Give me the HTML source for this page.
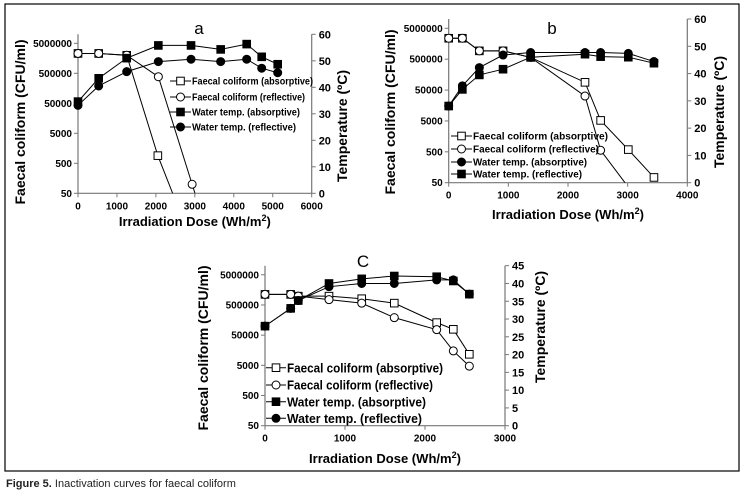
<!DOCTYPE html>
<html><head><meta charset="utf-8"><style>
body{margin:0;background:#fff;}
svg{display:block;font-family:"Liberation Sans",sans-serif;}
</style></head><body>
<svg id="fig" width="749" height="493" viewBox="0 0 749 493" xmlns="http://www.w3.org/2000/svg">
<rect x="5" y="4" width="734" height="467" fill="none" stroke="#000" stroke-width="1.2"/>
<text x="6" y="487" font-size="11" fill="#222"><tspan font-weight="bold">Figure 5.</tspan> Inactivation curves for faecal coliform</text>
</svg>
<script>
// ---- Chart a data ----
const aDose = [0, 531, 1250, 2063, 2902, 3663, 4331, 4716, 5127];
const aFcAbsDose = [0, 531, 1250, 2050, 2900];
const aFcAbs = [2300000, 2300000, 2000000, 900, 1.4];
const aFcRefDose = [0, 531, 1250, 2063, 2930, 3100];
const aFcRef = [2300000, 2300000, 2000000, 385000, 100, 20];
const aTempAbs = [34.6, 43.4, 51, 55.8, 55.8, 54.3, 56.3, 51.5, 48.7];
const aTempRef = [33.2, 40.5, 45.9, 49.7, 50.6, 49.7, 50.6, 47.2, 45.5];
const aXTicks = [0, 1000, 2000, 3000, 4000, 5000, 6000];
const aLogTicks = [50, 500, 5000, 50000, 500000, 5000000];
const aTempTicks = [0, 10, 20, 30, 40, 50, 60];
const aLegend = ["Faecal coliform (absorptive)", "Faecal coliform (reflective)", "Water  temp. (absorptive)", "Water  temp. (reflective)"];

// ---- Chart b data ----
const bDose = [0, 229, 514, 911, 1374, 2285, 2547, 3011, 3441];
const bFcAbs = [2380000, 2380000, 930000, 930000, 570000, 89000, 5200, 590, 74];
const bFcRefDose = [0, 229, 514, 911, 1374, 2285, 2547, 3011];
const bFcRef = [2380000, 2380000, 930000, 930000, 570000, 32000, 560, 36];
const bTempAbs = [28.1, 35.5, 42.2, 46.8, 47.7, 47.7, 47.7, 47.4, 44.4];
const bTempRef = [28.1, 34.2, 39.5, 41.6, 46, 47.1, 46.2, 46, 43.8];
const bXTicks = [0, 1000, 2000, 3000, 4000];
const bLogTicks = [50, 500, 5000, 50000, 500000, 5000000];
const bTempTicks = [0, 10, 20, 30, 40, 50, 60];
const bLegend = ["Faecal coliform (absorptive)", "Faecal coliform (reflective)", "Water temp. (absorptive)", "Water temp. (reflective)"];

// ---- Chart c data ----
const cDose = [0, 321, 416, 800, 1209, 1616, 2146, 2354, 2554];
const cFcAbs = [1120000, 1120000, 980000, 980000, 805000, 575000, 130000, 78000, 11600];
const cFcRef = [1120000, 1120000, 980000, 750000, 575000, 190000, 76000, 15000, 4700];
const cTempAbs = [28, 33, 35.2, 40, 41.3, 42.1, 41.9, 40.7, 37];
const cTempRef = [28, 33, 35.2, 39.1, 40, 40, 41, 41, 37];
const cXTicks = [0, 1000, 2000, 3000];
const cLogTicks = [50, 500, 5000, 50000, 500000, 5000000];
const cTempTicks = [0, 5, 10, 15, 20, 25, 30, 35, 40, 45];
const cLegend = ["Faecal coliform (absorptive)", "Faecal coliform (reflective)", "Water temp. (absorptive)", "Water temp. (reflective)"];

const NS = "http://www.w3.org/2000/svg";
const svg = document.getElementById("fig");
function mk(tag, attrs, parent) {
  const e = document.createElementNS(NS, tag);
  for (const k in attrs) e.setAttribute(k, attrs[k]);
  (parent || svg).appendChild(e);
  return e;
}

function drawChart(cfg) {
  const g = mk("g", {});
  
  
  const L = cfg.left, R = cfg.right, T = cfg.top, B = cfg.bottom;
  const xs = v => L + (v - cfg.xMin) / (cfg.xMax - cfg.xMin) * (R - L);
  const lmin = Math.log10(cfg.logMin), lmax = Math.log10(cfg.logMax);
  const ys = v => B - (Math.log10(v) - lmin) / (lmax - lmin) * (B - T);
  const yt = v => B - (v - cfg.tMin) / (cfg.tMax - cfg.tMin) * (B - T);
  const ax = "#777";
  // clip
  const cp = mk("clipPath", {id: "clip-" + cfg.id}, g);
  mk("rect", {x: L - 6, y: T - 6, width: R - L + 12, height: B - T + 6}, cp);
  // axes
  let e = mk("line", {x1: L, y1: T, x2: L, y2: B, stroke: ax, "stroke-width": 1.2}, g);
  
  
  e = mk("line", {x1: R, y1: T, x2: R, y2: B, stroke: ax, "stroke-width": 1.2}, g);
  
  
  e = mk("line", {x1: L, y1: B, x2: R, y2: B, stroke: ax, "stroke-width": 1.2}, g);
  
  
  cfg.logTicks.forEach(v => {
    const y = ys(v);
    mk("line", {x1: L - 4, y1: y, x2: L, y2: y, stroke: ax}, g);
    const t = mk("text", {x: L - 6, y: y + 3.5, "font-size": 10, "font-weight": "bold", "text-anchor": "end"}, g);
    t.textContent = v;
    
    
  });
  cfg.tempTicks.forEach(v => {
    const y = yt(v);
    mk("line", {x1: R, y1: y, x2: R + 4, y2: y, stroke: ax}, g);
    const t = mk("text", {x: R + 7, y: y + 4, "font-size": 11, "font-weight": "bold"}, g);
    t.textContent = v;
    
    
  });
  cfg.xTicks.forEach(v => {
    const x = xs(v);
    mk("line", {x1: x, y1: B, x2: x, y2: B + 4, stroke: ax}, g);
    const t = mk("text", {x: x, y: B + 16, "font-size": 10, "font-weight": "bold", "text-anchor": "middle"}, g);
    t.textContent = v;
    
    
  });
  // titles
  let t = mk("text", {x: cfg.titleX, y: cfg.titleY, "font-size": 17, "text-anchor": "middle"}, g);
  t.textContent = cfg.label;
  
  
  t = mk("text", {x: (L + R) / 2, y: cfg.xTitleY, "font-size": 13, "font-weight": "bold", "text-anchor": "middle", textLength: 152, lengthAdjust: "spacingAndGlyphs"}, g);
  t.innerHTML = 'Irradiation Dose  (Wh/m<tspan dy="-5" font-size="9">2</tspan><tspan dy="5">)</tspan>';
  
  
  t = mk("text", {x: 0, y: 0, "font-size": 14, "font-weight": "bold", "text-anchor": "middle", transform: `translate(${cfg.lTitleX},${cfg.lTitleY}) rotate(-90)`, textLength: 165, lengthAdjust: "spacingAndGlyphs"}, g);
  t.textContent = "Faecal  coliform (CFU/ml)";
  
  
  t = mk("text", {x: 0, y: 0, "font-size": 14, "font-weight": "bold", "text-anchor": "middle", transform: `translate(${cfg.rTitleX},${cfg.rTitleY}) rotate(-90)`, textLength: 112, lengthAdjust: "spacingAndGlyphs"}, g);
  t.textContent = "Temperature (ºC)";
  
  
  // series
  const sg = mk("g", {"clip-path": `url(#clip-${cfg.id})`}, g);
  cfg.series.forEach(s => {
    const pts = s.x.map((d, i) => [xs(d), s.log ? ys(s.y[i]) : yt(s.y[i])]);
    const pl = mk("polyline", {points: pts.map(p => p.join(",")).join(" "), fill: "none", stroke: "#000", "stroke-width": 1}, sg);
    
    
    pts.forEach(p => {
      if (p[1] > B + 2) return;
      let m;
      if (s.shape === "square") m = mk("rect", {x: p[0] - 3.8, y: p[1] - 3.8, width: 7.6, height: 7.6, fill: s.fill, stroke: "#000", "stroke-width": 1}, sg);
      else m = mk("circle", {cx: p[0], cy: p[1], r: 4, fill: s.fill, stroke: "#000", "stroke-width": 1}, sg);
      
      
    });
  });
  // legend
  const lg = mk("g", {}, g);
  
  
  cfg.legend.forEach((txt, i) => {
    const y = cfg.legY[i];
    const s = cfg.series[i];
    const en = mk("g", {}, lg);
    
    
    mk("line", {x1: cfg.legX, y1: y, x2: cfg.legX + cfg.legLine, y2: y, stroke: "#000"}, en);
    const cx = cfg.legX + cfg.legLine / 2;
    if (s.shape === "square") mk("rect", {x: cx - 3.8, y: y - 3.8, width: 7.6, height: 7.6, fill: s.fill, stroke: "#000"}, en);
    else mk("circle", {cx: cx, cy: y, r: 4, fill: s.fill, stroke: "#000"}, en);
    const tt = mk("text", {x: cfg.legX + cfg.legLine + 1, y: y + cfg.legFs * 0.36, "font-size": cfg.legFs, "font-weight": "bold", textLength: cfg.legW[i], lengthAdjust: "spacingAndGlyphs"}, en);
    tt.textContent = txt;
  });
}

drawChart({id: "a", label: "a", left: 78, right: 311.7, top: 34.3, bottom: 193.3, xMin: 0, xMax: 6000,
  logMin: 50, logMax: 10000000, tMin: 0, tMax: 60,
  xTicks: aXTicks, logTicks: aLogTicks, tempTicks: aTempTicks,
  titleX: 199, titleY: 34, xTitleY: 226, lTitleX: 25, lTitleY: 122, rTitleX: 347, rTitleY: 126,
  legend: aLegend, legX: 170, legLine: 21, legY: [81, 97, 112, 127], legFs: 10, legW: [121, 113, 108, 104],
  series: [
    {name: "a-fc-absorptive", x: aFcAbsDose, y: aFcAbs, log: true, shape: "square", fill: "#fff"},
    {name: "a-fc-reflective", x: aFcRefDose, y: aFcRef, log: true, shape: "circle", fill: "#fff"},
    {name: "a-temp-absorptive", x: aDose, y: aTempAbs, log: false, shape: "square", fill: "#000"},
    {name: "a-temp-reflective", x: aDose, y: aTempRef, log: false, shape: "circle", fill: "#000"}
  ]});

drawChart({id: "b", label: "b", left: 448.7, right: 687.3, top: 19, bottom: 182.7, xMin: 0, xMax: 4000,
  logMin: 50, logMax: 10000000, tMin: 0, tMax: 60,
  xTicks: bXTicks, logTicks: bLogTicks, tempTicks: bTempTicks,
  titleX: 552, titleY: 34, xTitleY: 219, lTitleX: 395, lTitleY: 112, rTitleX: 724, rTitleY: 112,
  legend: bLegend, legX: 451, legLine: 21, legY: [136, 149, 162, 174], legFs: 10, legW: [135, 126, 114, 109],
  series: [
    {name: "b-fc-absorptive", x: bDose, y: bFcAbs, log: true, shape: "square", fill: "#fff"},
    {name: "b-fc-reflective", x: bFcRefDose, y: bFcRef, log: true, shape: "circle", fill: "#fff"},
    {name: "b-temp-absorptive", x: bDose, y: bTempAbs, log: false, shape: "circle", fill: "#000"},
    {name: "b-temp-reflective", x: bDose, y: bTempRef, log: false, shape: "square", fill: "#000"}
  ]});

drawChart({id: "c", label: "C", left: 265, right: 505, top: 265.7, bottom: 425.7, xMin: 0, xMax: 3000,
  logMin: 50, logMax: 10000000, tMin: 0, tMax: 45,
  xTicks: cXTicks, logTicks: cLogTicks, tempTicks: cTempTicks,
  titleX: 363, titleY: 267, xTitleY: 463, lTitleX: 208, lTitleY: 348, rTitleX: 545, rTitleY: 327,
  legend: cLegend, legX: 266, legLine: 20, legY: [367.7, 385, 401.7, 418.3], legFs: 13, legW: [156, 146, 139, 135],
  series: [
    {name: "c-fc-absorptive", x: cDose, y: cFcAbs, log: true, shape: "square", fill: "#fff"},
    {name: "c-fc-reflective", x: cDose, y: cFcRef, log: true, shape: "circle", fill: "#fff"},
    {name: "c-temp-absorptive", x: cDose, y: cTempAbs, log: false, shape: "square", fill: "#000"},
    {name: "c-temp-reflective", x: cDose, y: cTempRef, log: false, shape: "circle", fill: "#000"}
  ]});
</script>
</body></html>
